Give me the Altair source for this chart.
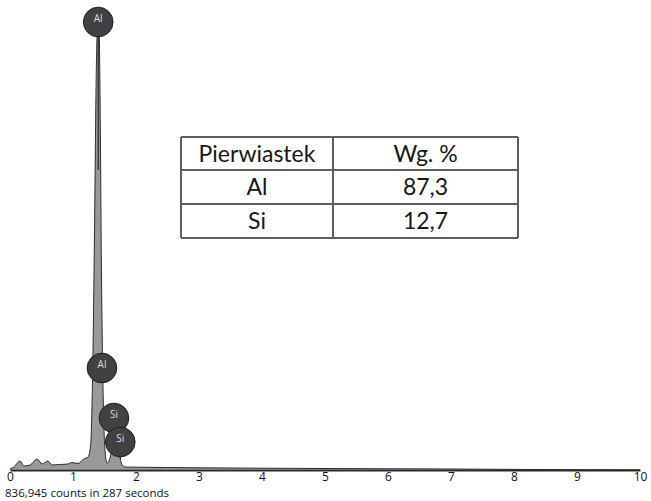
import altair as alt
import pandas as pd

# EDS spectrum: energy (keV) and counts
energy = [0.00, 0.06, 0.16, 0.22, 0.32, 0.43, 0.51, 0.60, 0.67, 0.79, 0.92, 0.98,
          1.08, 1.17, 1.24, 1.28, 1.31, 1.34, 1.37, 1.39, 1.41, 1.43, 1.45, 1.48,
          1.51, 1.54, 1.57, 1.60, 1.63, 1.66, 1.69, 1.72, 1.75, 1.78, 1.83, 2.0,
          2.5, 3.0, 4.0, 5.0, 6.0, 7.0, 8.0, 9.0, 10.0]
counts = [10, 30, 90, 40, 50, 110, 60, 90, 50, 55, 60, 75,
          65, 110, 130, 250, 900, 2300, 4000, 4450, 4500, 3700, 2100, 700,
          180, 70, 90, 150, 260, 330, 340, 260, 120, 50, 30, 28,
          25, 22, 18, 15, 12, 10, 6, 3, 2]

# Element line markers
marker_label = ["Al", "Al", "Si", "Si"]
marker_energy = [1.40, 1.46, 1.65, 1.75]
marker_counts = [4480, 1020, 520, 280]
marker_end = [3000, 870, 390, 110]

# Composition table
table_header = ["Pierwiastek", "Wg. %"]
table_elements = ["Al", "Si"]
table_weights = ["87,3", "12,7"]

spec = pd.DataFrame({"energy": energy, "counts": counts})
marks = pd.DataFrame({"label": marker_label, "energy": marker_energy,
                      "counts": marker_counts, "end": marker_end})

xs = alt.Scale(domain=[0, 10], nice=False, zero=False)
ys = alt.Scale(domain=[0, 4600], nice=False)

area = alt.Chart(spec).mark_area(
    color="#6e6e6e", interpolate="monotone",
    line={"color": "#2b2b2b", "strokeWidth": 1}
).encode(
    x=alt.X("energy:Q", scale=xs,
            axis=alt.Axis(values=list(range(11)), format="d", title=None,
                          ticks=False, grid=False, domainColor="#2a2a2a",
                          domainWidth=2, labelFontSize=12, labelColor="#111111",
                          labelFont="Open Sans", labelPadding=1,
                          labelFlush=False)),
    y=alt.Y("counts:Q", scale=ys, axis=None),
)

stems = alt.Chart(marks).mark_rule(color="#111111", strokeWidth=1).encode(
    x=alt.X("energy:Q", scale=xs), y=alt.Y("counts:Q", scale=ys), y2="end:Q"
)

circles = alt.Chart(marks).mark_point(
    shape="circle", size=880, filled=True, fill="#414141", opacity=1,
    stroke="#1c1c1c", strokeWidth=1
).encode(x=alt.X("energy:Q", scale=xs), y=alt.Y("counts:Q", scale=ys))

labels = alt.Chart(marks).mark_text(
    fontSize=10, color="#dcdcdc", font="Open Sans", dy=-3
).encode(x=alt.X("energy:Q", scale=xs), y=alt.Y("counts:Q", scale=ys),
         text="label:N")

caption = alt.Chart(pd.DataFrame({"t": ["836,945 counts in 287 seconds"]})).mark_text(
    align="left", baseline="middle", fontSize=11.5, font="Open Sans", color="#111111"
).encode(x=alt.value(-5), y=alt.value(484), text="t:N")

# Table layout (pixels inside the plot area)
col_edges = [171, 323, 508]
row_edges = [127, 160, 194, 228]
cells = []
rows = [table_header] + [[e, w] for e, w in zip(table_elements, table_weights)]
for r, row in enumerate(rows):
    for c, val in enumerate(row):
        cells.append({"text": val,
                      "x": (col_edges[c] + col_edges[c + 1]) / 2,
                      "y": (row_edges[r] + row_edges[r + 1]) / 2 + 1})
cells = pd.DataFrame(cells)

h_lines = pd.DataFrame({"x": col_edges[0], "x2": col_edges[-1], "y": row_edges})
v_lines = pd.DataFrame({"x": col_edges, "y": row_edges[0], "y2": row_edges[-1]})

hl = alt.Chart(h_lines).mark_rule(color="#5e5e5e", strokeWidth=2).encode(
    x=alt.X("x:Q", scale=None), x2="x2:Q", y=alt.Y("y:Q", scale=None))
vl = alt.Chart(v_lines).mark_rule(color="#5e5e5e", strokeWidth=2).encode(
    x=alt.X("x:Q", scale=None), y=alt.Y("y:Q", scale=None), y2="y2:Q")
cell_text = alt.Chart(cells).mark_text(
    fontSize=23, font="Lato", color="#161616", baseline="middle"
).encode(x=alt.X("x:Q", scale=None), y=alt.Y("y:Q", scale=None), text="text:N")

chart = alt.layer(area, stems, circles, labels, caption, hl, vl, cell_text).properties(
    width=630, height=460,
    autosize=alt.AutoSizeParams(type="none"),
    padding={"left": 10, "top": 10, "right": 11, "bottom": 31},
    background="white",
).configure_view(stroke=None)

chart.save("out.html", embed_options={"renderer": "svg", "actions": False})
